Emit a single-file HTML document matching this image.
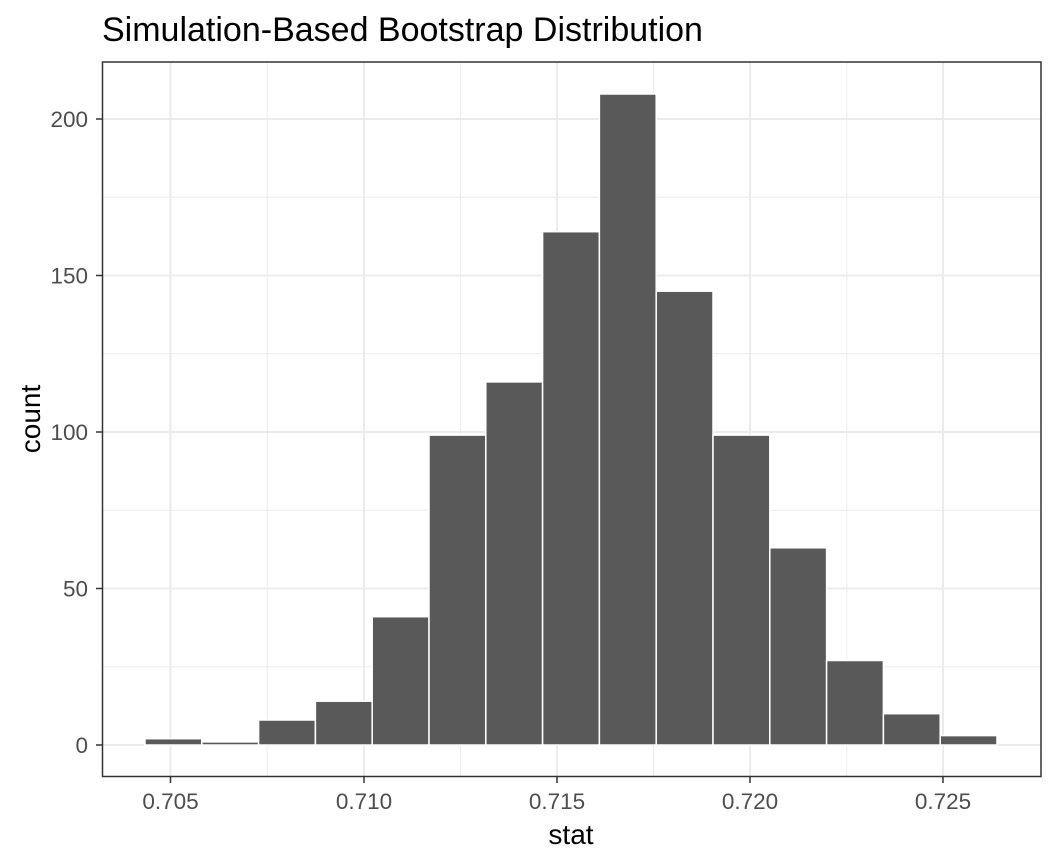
<!DOCTYPE html>
<html><head><meta charset="utf-8"><style>body{margin:0;background:#fff}svg{display:block}</style></head><body>
<svg width="1056" height="864" xmlns="http://www.w3.org/2000/svg" font-family="Liberation Sans, Arial, sans-serif">
<rect width="1056" height="864" fill="#fff"/>
<text x="102" y="41" font-size="34" fill="#000">Simulation-Based Bootstrap Distribution</text>
<g stroke="#ebebeb" stroke-width="1">
<line x1="102" x2="1041" y1="666.75" y2="666.75"/><line x1="102" x2="1041" y1="510.25" y2="510.25"/>
<line x1="102" x2="1041" y1="353.75" y2="353.75"/><line x1="102" x2="1041" y1="197.25" y2="197.25"/>
<line y1="62" y2="776" x1="267.2" x2="267.2"/><line y1="62" y2="776" x1="460.4" x2="460.4"/>
<line y1="62" y2="776" x1="653.6" x2="653.6"/><line y1="62" y2="776" x1="846.8" x2="846.8"/>
</g>
<g stroke="#ebebeb" stroke-width="2">
<line x1="102" x2="1041" y1="745" y2="745"/><line x1="102" x2="1041" y1="588.5" y2="588.5"/>
<line x1="102" x2="1041" y1="432" y2="432"/><line x1="102" x2="1041" y1="275.5" y2="275.5"/>
<line x1="102" x2="1041" y1="119" y2="119"/>
<line y1="62" y2="776" x1="170.5" x2="170.5"/><line y1="62" y2="776" x1="364" x2="364"/>
<line y1="62" y2="776" x1="557" x2="557"/><line y1="62" y2="776" x1="750" x2="750"/>
<line y1="62" y2="776" x1="943" x2="943"/>
</g>
<g fill="#595959" stroke="#fff" stroke-width="1.5">
<rect x="145" y="738.7" width="56.8" height="6.3"/>
<rect x="201.8" y="741.9" width="56.8" height="3.1"/>
<rect x="258.6" y="720" width="56.8" height="25"/>
<rect x="315.4" y="701.2" width="56.8" height="43.8"/>
<rect x="372.2" y="616.7" width="56.8" height="128.3"/>
<rect x="429" y="435.1" width="56.8" height="309.9"/>
<rect x="485.8" y="381.9" width="56.8" height="363.1"/>
<rect x="542.6" y="231.7" width="56.8" height="513.3"/>
<rect x="599.4" y="94" width="56.8" height="651"/>
<rect x="656.2" y="291.2" width="56.8" height="453.8"/>
<rect x="713" y="435.1" width="56.8" height="309.9"/>
<rect x="769.8" y="547.8" width="56.8" height="197.2"/>
<rect x="826.6" y="660.5" width="56.8" height="84.5"/>
<rect x="883.4" y="713.7" width="56.8" height="31.3"/>
<rect x="940.2" y="735.6" width="56.8" height="9.4"/>
</g>
<rect x="102.5" y="62" width="938.5" height="714.5" fill="none" stroke="#333" stroke-width="1.5"/>
<g stroke="#333" stroke-width="1.5">
<line x1="96" x2="102" y1="745" y2="745"/><line x1="96" x2="102" y1="588.5" y2="588.5"/>
<line x1="96" x2="102" y1="432" y2="432"/><line x1="96" x2="102" y1="275.5" y2="275.5"/>
<line x1="96" x2="102" y1="119" y2="119"/>
<line y1="777" y2="783" x1="170.5" x2="170.5"/><line y1="777" y2="783" x1="364" x2="364"/>
<line y1="777" y2="783" x1="557" x2="557"/><line y1="777" y2="783" x1="750" x2="750"/>
<line y1="777" y2="783" x1="943" x2="943"/>
</g>
<g font-size="22.5" fill="#4d4d4d" text-anchor="end">
<text x="88" y="753">0</text><text x="88" y="596.5">50</text><text x="88" y="440">100</text>
<text x="88" y="283.5">150</text><text x="88" y="127">200</text>
</g>
<g font-size="22.5" fill="#4d4d4d" text-anchor="middle">
<text x="170.5" y="809">0.705</text><text x="364" y="809">0.710</text><text x="557" y="809">0.715</text>
<text x="750" y="809">0.720</text><text x="943" y="809">0.725</text>
</g>
<text x="571" y="844" font-size="28" text-anchor="middle">stat</text>
<text transform="translate(40,419) rotate(-90)" font-size="28" text-anchor="middle">count</text>
</svg>
</body></html>
